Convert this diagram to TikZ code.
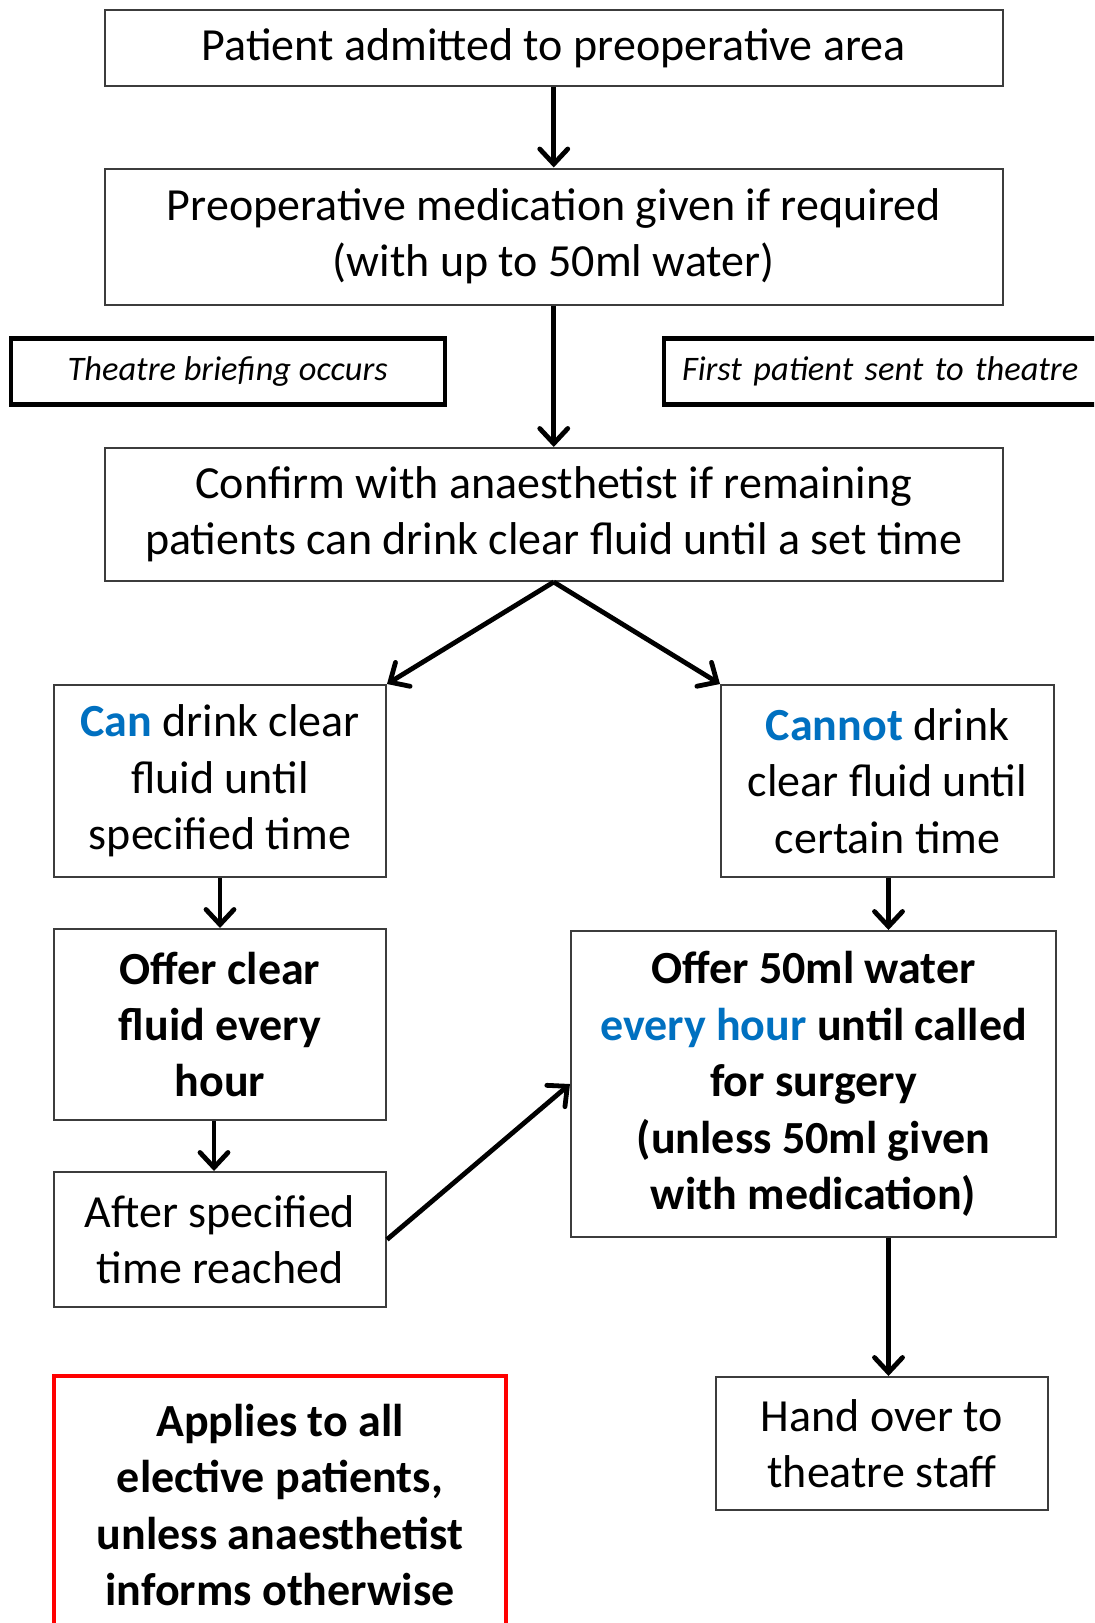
\documentclass[tikz,border=0pt]{standalone}
\usepackage{fontspec}
\setmainfont{Carlito}
\usepackage{color}
\definecolor{calblue}{RGB}{0,112,192}
\definecolor{boxgrey}{RGB}{60,60,60}
\definecolor{notered}{RGB}{255,0,0}
\usetikzlibrary{arrows.meta}
\newcommand{\hl}[1]{\textcolor{calblue}{\textbf{#1}}}
\newcommand{\bodysize}{\fontsize{23}{28.2}\selectfont}
\tikzset{
    common/.style={draw=boxgrey, line width=1pt, rectangle, align=center, inner sep=0pt, font=\bodysize},
    brief/.style={common, draw=black, line width=2.2pt, font=\fontsize{17.2}{20}\selectfont\itshape},
    note/.style={common, draw=notered, line width=2.2pt, font=\bodysize\bfseries},
    flow/.style={line width=2.4pt, -{Straight Barb[length=7.5pt, width=14pt, line cap=round]}}
}

\begin{document}
\begin{tikzpicture}[x=0.5pt, y=-0.5pt]
    \useasboundingbox (0,0) rectangle (1094,1623);
    \clip (0,0) rectangle (1094,1623);
    % top row
    \node[common, minimum width=449pt, minimum height=38pt] (admit) at (553.75,48) {Patient admitted to preoperative area};
    \node[common, minimum width=449pt, minimum height=68pt] (premed) at (553.75,236.5) {Preoperative medication given if required\\(with up to 50ml water)};
    \node[brief, minimum width=217pt, minimum height=33pt] (briefing) at (227.7,371.5) {Theatre briefing occurs};
    \node[brief, minimum width=222pt, minimum height=33pt, text width=204pt, align=left] (firstpt) at (886,371.5) {First patient sent to theatre};
    \node[common, minimum width=449pt, minimum height=66.5pt] (confirm) at (553.75,514.5) {Confirm with anaesthetist if remaining\\patients can drink clear fluid until a set time};
    % left branch
    \node[common, minimum width=166pt, minimum height=96pt] (can) at (220,781) {\hl{Can} drink clear\\fluid until\\specified time};
    \node[common, minimum width=166pt, minimum height=95.5pt, font=\bodysize\bfseries] (offerclear) at (220,1024.5) {Offer clear\\fluid every\\hour};
    \node[common, minimum width=166pt, minimum height=67.5pt] (after) at (220,1239.5) {After specified\\time reached};
    % right branch
    \node[common, minimum width=166.5pt, minimum height=96pt] (cannot) at (887.5,781) {\hl{Cannot} drink\\clear fluid until\\certain time};
    \node[common, minimum width=242.5pt, minimum height=153pt, font=\bodysize\bfseries] (offerwater) at (813.5,1084) {Offer 50ml water\\\hl{every hour} until called\\for surgery\\(unless 50ml given\\with medication)};
    \node[common, minimum width=166pt, minimum height=66.5pt] (handover) at (882,1443.5) {Hand over to\\theatre staff};
    % note
    \node[note, minimum width=226pt, minimum height=129pt, anchor=north] (applies) at (280,1374) {Applies to all\\elective patients,\\unless anaesthetist\\informs otherwise};
    % connectors
    \draw[flow] (admit) -- (premed);
    \draw[flow] (premed) -- (confirm);
    \draw[flow] (confirm.south) -- (can.north east);
    \draw[flow] (confirm.south) -- (cannot.north west);
    \draw[flow] (can) -- (offerclear);
    \draw[flow] ([xshift=-3pt]offerclear.south) -- ([xshift=-3pt]after.north);
    \draw[flow] (after.east) -- (offerwater.west);
    \draw[flow] ([xshift=0.5pt]cannot.south) -- ([xshift=0.5pt]cannot.south |- offerwater.north);
    \draw[flow] ([xshift=0.5pt]cannot.south |- offerwater.south) -- ([xshift=0.5pt]cannot.south |- handover.north);
\end{tikzpicture}
\end{document}
